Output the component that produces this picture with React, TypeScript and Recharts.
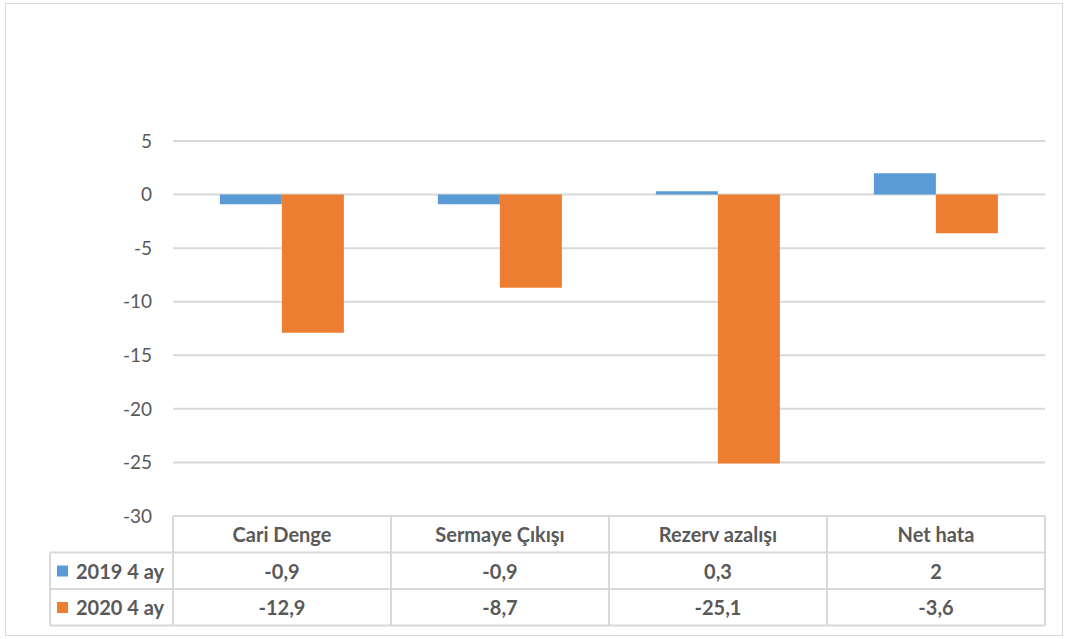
import React from 'react';
import { BarChart, Bar, XAxis, YAxis, CartesianGrid } from 'recharts';

const categories = ['Cari Denge', 'Sermaye Çıkışı', 'Rezerv azalışı', 'Net hata'];
const series2019 = [-0.9, -0.9, 0.3, 2];
const series2020 = [-12.9, -8.7, -25.1, -3.6];
const seriesNames = ['2019 4 ay', '2020 4 ay'];
const yTicks = [5, 0, -5, -10, -15, -20, -25, -30];

const COLORS = ['#5B9BD5', '#ED7D31'];
const GRID = '#D9D9D9';
const TEXT = '#595959';
const FONT = 'Lato, "Open Sans", sans-serif';
const TABLE_FONT_SIZE = 20;

const W = 1066;
const H = 639;
const PLOT_LEFT = 173;
const PLOT_RIGHT = 1045;
const PLOT_TOP = 141;
const PLOT_BOTTOM = 516;
const ROW_H = 36.5;
const LEGEND_LEFT = 50;
const Y_AXIS_W = 60;

const data = categories.map((name, i) => ({
  name,
  v2019: series2019[i],
  v2020: series2020[i],
}));

const fmt = (v: number) => String(v).replace('.', ',');

const bandW = (PLOT_RIGHT - PLOT_LEFT) / categories.length;

// Data table drawn under the plot: each category tick renders its own column.
const TableTick = (props: any) => {
  const { x, payload } = props;
  const idx = payload.index as number;
  const left = x - bandW / 2;
  const right = x + bandW / 2;
  const r0 = PLOT_BOTTOM;
  const r1 = r0 + ROW_H;
  const r2 = r1 + ROW_H;
  const r3 = r2 + ROW_H;
  const rows = [series2019, series2020];
  const textProps = {
    fill: TEXT,
    fontFamily: FONT,
    fontSize: TABLE_FONT_SIZE,
    fontWeight: 700,
    dominantBaseline: 'central' as const,
  };
  return (
    <g>
      <line x1={left} x2={right} y1={r1} y2={r1} stroke={GRID} strokeWidth={2} />
      <line x1={left} x2={right} y1={r2} y2={r2} stroke={GRID} strokeWidth={2} />
      <line x1={left} x2={right} y1={r3} y2={r3} stroke={GRID} strokeWidth={2} />
      <line x1={right} x2={right} y1={r0} y2={r3} stroke={GRID} strokeWidth={2} />
      {idx === 0 && (
        <g>
          <line x1={left} x2={left} y1={r0} y2={r3} stroke={GRID} strokeWidth={2} />
          <line x1={LEGEND_LEFT} x2={left} y1={r1} y2={r1} stroke={GRID} strokeWidth={2} />
          <line x1={LEGEND_LEFT} x2={left} y1={r2} y2={r2} stroke={GRID} strokeWidth={2} />
          <line x1={LEGEND_LEFT} x2={left} y1={r3} y2={r3} stroke={GRID} strokeWidth={2} />
          <line x1={LEGEND_LEFT} x2={LEGEND_LEFT} y1={r1} y2={r3} stroke={GRID} strokeWidth={2} />
          {seriesNames.map((s, k) => (
            <g key={s}>
              <rect x={57} y={r1 + k * ROW_H + 13} width={11} height={11} fill={COLORS[k]} />
              <text x={76} y={r1 + k * ROW_H + ROW_H / 2} {...textProps}>
                {s}
              </text>
            </g>
          ))}
        </g>
      )}
      <text x={x} y={r0 + ROW_H / 2} textAnchor="middle" {...textProps}>
        {payload.value}
      </text>
      {rows.map((row, k) => (
        <text key={k} x={x} y={r1 + k * ROW_H + ROW_H / 2} textAnchor="middle" {...textProps}>
          {fmt(row[idx])}
        </text>
      ))}
    </g>
  );
};

export default function App() {
  return (
    <div style={{ position: 'absolute', left: 0, top: 0, width: W, height: H, background: '#fff' }}>
      <div
        style={{
          position: 'absolute',
          left: 5,
          top: 3,
          width: 1056,
          height: 631,
          border: `1px solid ${GRID}`,
        }}
      />
      <div style={{ position: 'absolute', left: 0, top: 0 }}>
        <BarChart
          width={W}
          height={H}
          data={data}
          margin={{ top: PLOT_TOP, right: W - PLOT_RIGHT, left: PLOT_LEFT - Y_AXIS_W, bottom: 0 }}
          barCategoryGap="21.5%"
          barGap={0}
        >
          <CartesianGrid vertical={false} stroke={GRID} strokeWidth={2} />
          <XAxis
            dataKey="name"
            axisLine={false}
            tickLine={false}
            height={H - PLOT_BOTTOM}
            tick={<TableTick />}
            interval={0}
          />
          <YAxis
            width={Y_AXIS_W}
            domain={[-30, 5]}
            ticks={yTicks}
            axisLine={false}
            tickLine={false}
            tickMargin={15}
            tick={{ fill: TEXT, fontSize: 19, fontFamily: FONT }}
          />
          <Bar dataKey="v2019" fill={COLORS[0]} isAnimationActive={false} />
          <Bar dataKey="v2020" fill={COLORS[1]} isAnimationActive={false} />
        </BarChart>
      </div>
    </div>
  );
}
